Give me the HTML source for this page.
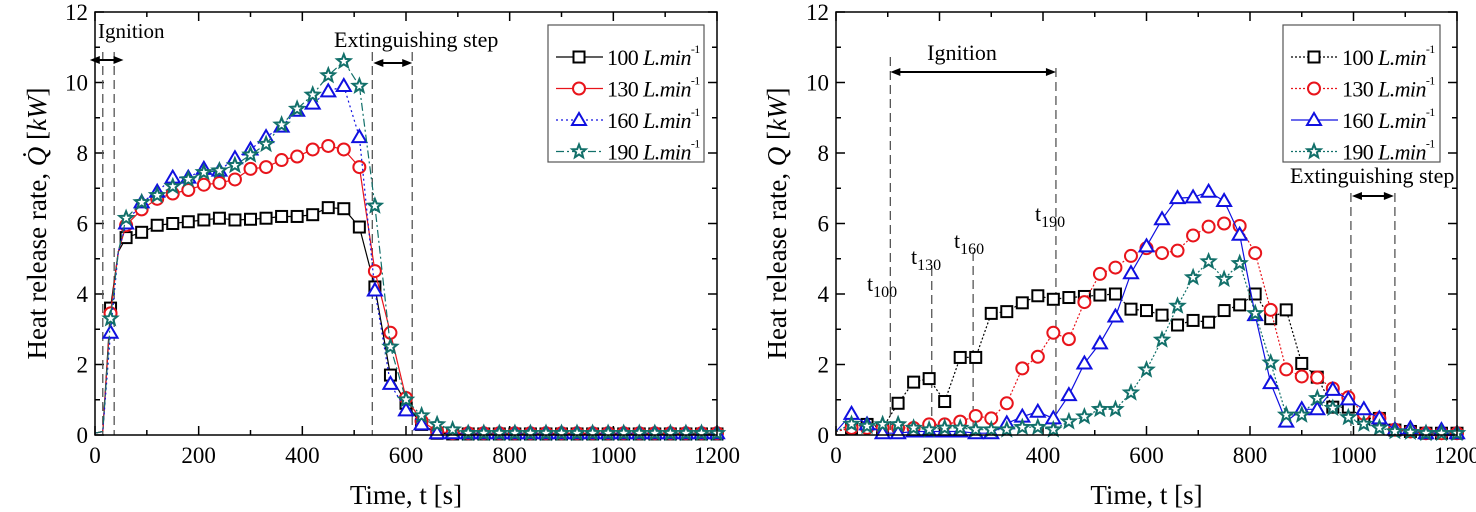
<!DOCTYPE html>
<html><head><meta charset="utf-8">
<style>
body{margin:0;background:#fff;width:1476px;height:512px;overflow:hidden}
svg{display:block;font-family:"Liberation Serif",serif}
</style></head>
<body>
<svg id="svg" width="1476" height="512" viewBox="0 0 1476 512"></svg>
<script>
// ---- data ----
const leftTimes = [0,15,30,45,60,90,120,150,180,210,240,270,300,330,360,390,420,450,480,510,540,570,600,630,660,690,720,750,780,810,840,870,900,930,960,990,1020,1050,1080,1110,1140,1170,1200];
const left100 = [0.05,0.1,3.6,5.2,5.6,5.75,5.95,6.0,6.05,6.1,6.15,6.1,6.12,6.15,6.2,6.2,6.25,6.45,6.42,5.9,4.2,1.7,0.9,0.3,0.05,0.03,0.03,0.03,0.03,0.03,0.03,0.03,0.03,0.03,0.03,0.03,0.03,0.03,0.03,0.03,0.03,0.03,0.03];
const left130 = [0.05,0.1,3.45,5.2,5.95,6.4,6.7,6.85,6.95,7.1,7.15,7.25,7.55,7.6,7.8,7.9,8.1,8.2,8.1,7.6,4.65,2.9,1.05,0.4,0.1,0.05,0.05,0.05,0.05,0.05,0.05,0.05,0.05,0.05,0.05,0.05,0.05,0.05,0.05,0.05,0.05,0.05,0.05];
const left160 = [0.05,0.1,2.9,5.2,6.0,6.6,6.9,7.3,7.3,7.55,7.5,7.85,8.1,8.45,8.75,9.2,9.4,9.75,9.9,8.45,4.1,1.45,0.7,0.3,0.05,0.05,0.05,0.05,0.05,0.05,0.05,0.05,0.05,0.05,0.05,0.05,0.05,0.05,0.05,0.05,0.05,0.05,0.05];
const left190 = [0.05,0.1,3.3,5.2,6.15,6.6,6.8,7.05,7.25,7.45,7.5,7.65,7.95,8.25,8.8,9.25,9.65,10.2,10.6,9.9,6.5,2.5,1.0,0.55,0.3,0.15,0.05,0.05,0.05,0.05,0.05,0.05,0.05,0.05,0.05,0.05,0.05,0.05,0.05,0.05,0.05,0.05,0.05];

const rightTimes = [0,30,60,90,120,150,180,210,240,270,300,330,360,390,420,450,480,510,540,570,600,630,660,690,720,750,780,810,840,870,900,930,960,990,1020,1050,1080,1110,1140,1170,1200];
const right100 = [0.1,0.2,0.3,0.2,0.9,1.5,1.6,0.95,2.2,2.2,3.45,3.5,3.75,3.95,3.85,3.9,3.93,3.97,4.0,3.57,3.53,3.4,3.12,3.25,3.2,3.53,3.69,4.0,3.3,3.55,2.03,1.64,0.79,0.79,0.47,0.47,0.14,0.1,0.05,0.05,0.05];
const right130 = [0.1,0.2,0.2,0.2,0.2,0.2,0.3,0.3,0.38,0.54,0.47,0.9,1.89,2.22,2.9,2.72,3.77,4.57,4.75,5.08,5.3,5.16,5.23,5.66,5.91,6.0,5.93,5.16,3.55,1.86,1.66,1.63,1.32,1.07,0.6,0.47,0.15,0.1,0.05,0.05,0.05];
const right160 = [0.1,0.6,0.3,0.05,0.05,0.1,0.1,0.1,0.1,0.05,0.05,0.33,0.52,0.66,0.47,1.13,2.03,2.6,3.36,4.59,5.35,6.12,6.72,6.74,6.9,6.64,5.68,3.4,1.47,0.38,0.73,0.73,1.28,1.01,0.73,0.47,0.15,0.19,0.05,0.14,0.05];
const right190 = [0.1,0.31,0.25,0.3,0.3,0.2,0.15,0.2,0.2,0.15,0.15,0.15,0.22,0.22,0.15,0.38,0.52,0.73,0.73,1.2,1.85,2.7,3.66,4.47,4.92,4.42,4.87,3.45,2.05,0.57,0.57,1.04,0.76,0.5,0.31,0.2,0.1,0.08,0.05,0.05,0.05];

const xTicks = [0,200,400,600,800,1000,1200];
const yTicks = [0,2,4,6,8,10,12];
const seriesLabels = ["100","130","160","190"];

const NS="http://www.w3.org/2000/svg";
const svg=document.getElementById('svg');
function mk(tag,attrs,parent){const e=document.createElementNS(NS,tag);for(const k in attrs)e.setAttribute(k,attrs[k]);(parent||svg).appendChild(e);return e;}

const colors=["#000","#e8141b","#1010e0","#12706a"];

function marker(g,type,x,y,c){
  let e;
  if(type===0){e=mk('rect',{x:x-5.5,y:y-5.5,width:11,height:11,fill:'#fff',stroke:c,'stroke-width':2},g);}
  else if(type===1){e=mk('circle',{cx:x,cy:y,r:6,fill:'#fff',stroke:c,'stroke-width':2},g);}
  else if(type===2){e=mk('polygon',{points:`${x},${y-7} ${x-7},${y+5} ${x+7},${y+5}`,fill:'#fff',stroke:c,'stroke-width':2},g);}
  else {let p=[];for(let i=0;i<10;i++){const r=i%2?3:7;const a=-Math.PI/2+i*Math.PI/5;p.push((x+r*Math.cos(a)).toFixed(1)+','+(y+r*Math.sin(a)).toFixed(1));}
    e=mk('polygon',{points:p.join(' '),fill:'#fff',stroke:c,'stroke-width':2},g);}
  return e;
}

function chart(o){
  const X0=o.x0,X1=o.x1,Y0=12,Y1=435;
  const sx=t=>X0+(X1-X0)*t/1200, sy=v=>Y1-(Y1-Y0)*v/12;
  const g=mk('g',{});
  
  
  for(let t=0;t<=1200;t+=100){const L=t%200?5:9;
    mk('line',{x1:sx(t),x2:sx(t),y1:Y1,y2:Y1-L,stroke:'#000','stroke-width':1.5},g);
    mk('line',{x1:sx(t),x2:sx(t),y1:Y0,y2:Y0+L,stroke:'#000','stroke-width':1.5},g);}
  for(let v=0;v<=12;v+=1){const L=v%2?5:9;
    mk('line',{x1:X0,x2:X0+L,y1:sy(v),y2:sy(v),stroke:'#000','stroke-width':1.5},g);
    mk('line',{x1:X1,x2:X1-L,y1:sy(v),y2:sy(v),stroke:'#000','stroke-width':1.5},g);}
  xTicks.forEach(t=>{const e=mk('text',{x:sx(t),y:Y1+28,'font-size':23,'text-anchor':'middle'},g);e.textContent=t;
    
    });
  yTicks.forEach(v=>{const e=mk('text',{x:X0-7,y:sy(v)+8,'font-size':23,'text-anchor':'end'},g);e.textContent=v;
    
    });
  const ann=mk('g',{stroke:'#555','stroke-width':1.3,'stroke-dasharray':'9,5',fill:'none'},g);
  
  
  o.vlines.forEach(l=>mk('line',{x1:sx(l[0]),x2:sx(l[0]),y1:l[1],y2:Y1},ann));
  o.arrows.forEach(a=>{const x1=sx(a[0]),x2=sx(a[1]),y=a[2];
    mk('line',{x1:x1+4,x2:x2-4,y1:y,y2:y,stroke:'#000','stroke-width':2},g);
    mk('polygon',{points:`${x1},${y} ${x1+10},${y-4} ${x1+10},${y+4}`,fill:'#000'},g);
    mk('polygon',{points:`${x2},${y} ${x2-10},${y-4} ${x2-10},${y+4}`,fill:'#000'},g);});
  o.texts.forEach(tx=>{const e=mk('text',{x:tx[0],y:tx[1],'font-size':tx[4]||21,'text-anchor':tx[3]||'start'},g);e.innerHTML=tx[2];
    
    });
  o.series.forEach((vals,i)=>{
    const sg=mk('g',{},g);
    
    
    const pts=o.times.map((t,k)=>sx(t).toFixed(1)+','+sy(vals[k]).toFixed(1)).join(' ');
    mk('polyline',{points:pts,fill:'none',stroke:colors[i],'stroke-width':1.2,'stroke-dasharray':o.dash[i]},sg);
    o.times.forEach((t,k)=>{if(t>0&&t%30===0){const m=marker(sg,i,sx(t),sy(vals[k]),colors[i]);
      
      }});
  });
  const fr=mk('rect',{x:X0,y:Y0,width:X1-X0,height:Y1-Y0,fill:'none',stroke:'#000','stroke-width':1.5},g);
  
  
  const lg=mk('g',{},g);
  
  
  mk('rect',{x:o.lx,y:25,width:o.lw,height:137,fill:'#fff',stroke:'#555','stroke-width':1.2},lg);
  seriesLabels.forEach((s,i)=>{const y=57+i*31.5;
    const en=mk('g',{},lg);
    
    
    mk('line',{x1:o.lx+8,x2:o.lx+55,y1:y,y2:y,stroke:colors[i],'stroke-width':1.3,'stroke-dasharray':o.dash[i]},en);
    marker(en,i,o.lx+31,y,colors[i]);
    const t=mk('text',{x:o.lx+59,y:y+8,'font-size':22,'letter-spacing':'-0.6'},en);
    t.innerHTML=s+' <tspan font-style="italic">L.min</tspan><tspan font-size="12" dy="-12">-1</tspan>';});
  const xt=mk('text',{x:(X0+X1)/2,y:504,'font-size':27,'text-anchor':'middle'},g);
  xt.textContent='Time, t [s]';
  
  
  const yt=mk('text',{x:0,y:0,'font-size':27,'text-anchor':'middle',transform:`translate(${o.ytx},${(Y0+Y1)/2}) rotate(-90)`},g);
  yt.innerHTML=o.ytitle;
  
  
}

chart({name:'left-chart',x0:95,x1:717,lx:548,lw:156,ytx:46,
  ytitle:'Heat release rate, <tspan font-style="italic">Q̇</tspan> [<tspan font-style="italic">kW</tspan>]',
  times:leftTimes,series:[left100,left130,left160,left190],
  dash:['','','2,3','8,3,2,3'],
  vlines:[[15,52],[37,52],[535,52],[612,52]],
  arrows:[[-10,55,60],[537,612,63]],
  texts:[[98,38,'Ignition'],[334,47,'Extinguishing step',null,22]]});
chart({name:'right-chart',x0:836,x1:1457,lx:1283,lw:157,ytx:786,
  ytitle:'Heat release rate, <tspan font-style="italic">Q</tspan> [<tspan font-style="italic">kW</tspan>]',
  times:rightTimes,series:[right100,right130,right160,right190],
  dash:['2,2','2,2','','2,2'],
  vlines:[[105,57],[185,267],[265,252],[425,68],[995,193],[1080,193]],
  arrows:[[105,425,72],[997,1078,196]],
  texts:[[962,60,'Ignition','middle',22],[1290,183,'Extinguishing step',null,22],
    [867,291,'t<tspan font-size="16" dy="6">100</tspan>',null,22],[911,264,'t<tspan font-size="16" dy="6">130</tspan>',null,22],
    [954,248,'t<tspan font-size="16" dy="6">160</tspan>',null,22],[1035,221,'t<tspan font-size="16" dy="6">190</tspan>',null,22]]});
</script>
</body></html>
